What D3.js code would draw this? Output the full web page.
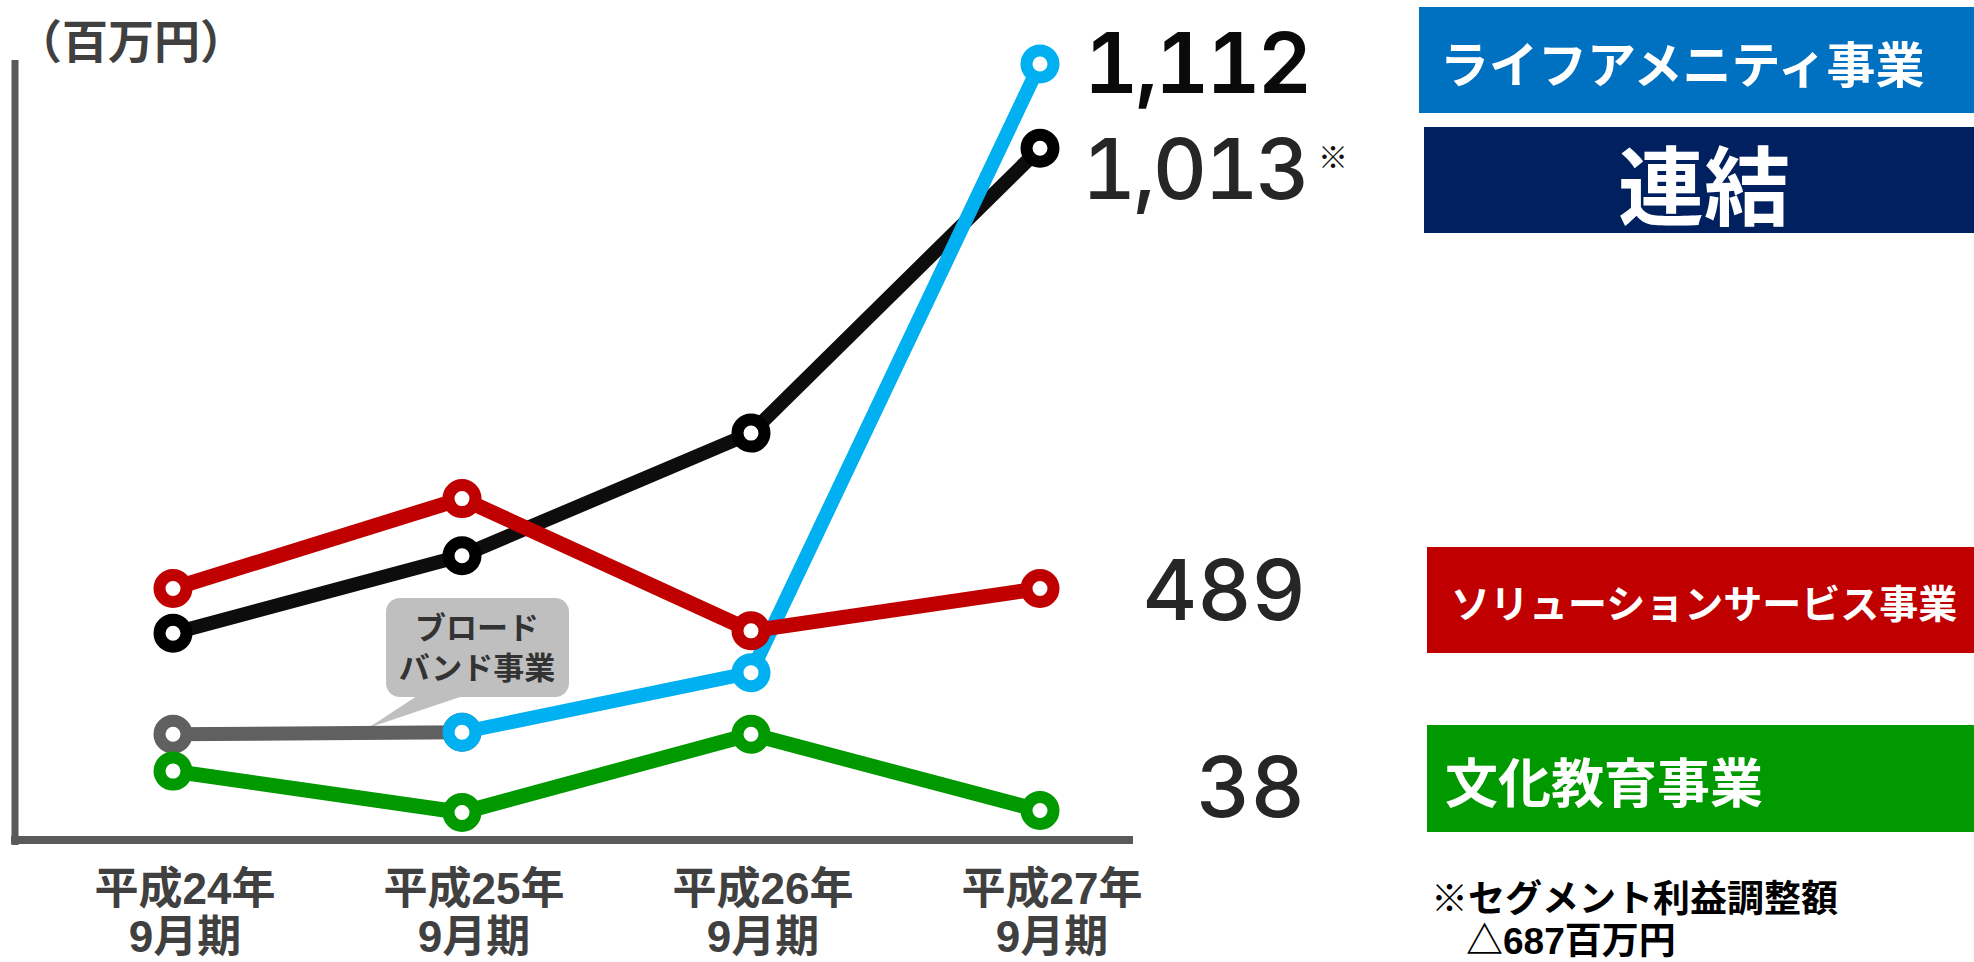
<!DOCTYPE html>
<html><head><meta charset="utf-8">
<script src="https://cdn.jsdelivr.net/npm/d3@7"></script>
<style>
body{margin:0;background:#fff;}
svg{display:block;}
</style>
</head><body>
<svg id="chart" width="1974" height="962"></svg>
<script>
// ---------------- data ----------------
const categories = ["平成24年9月期", "平成25年9月期", "平成26年9月期", "平成27年9月期"];
const categoryLine1 = ["平成24年", "平成25年", "平成26年", "平成27年"];
const categoryLine2 = ["9月期", "9月期", "9月期", "9月期"];

const consolidated     = [398, 528, 674, 1013];   // 連結
const solutionService  = [489, 596, 403, 489];    // ソリューションサービス事業
const broadband        = [193, 197, null, null];  // ブロードバンド事業
const lifeAmenity      = [null, 197, 318, 1112];  // ライフアメニティ事業
const cultureEducation = [118, 34, 193, 38];      // 文化教育事業

const legendLabels = ["ライフアメニティ事業", "連結", "ソリューションサービス事業", "文化教育事業"];
const broadbandLabel = ["ブロード", "バンド事業"];
const yAxisLabel = "（百万円）";
const footnoteLines = ["※セグメント利益調整額", "△687百万円"];
const consolidatedMark = "※";
// labelled end values (the chart is schematic, not drawn to a single linear scale)
const labelledValues = [38, 489, 1013, 1112];

// ---------------- layout / style ----------------
const svg = d3.select("#chart");
const CJK = "'Noto Sans CJK JP','Noto Sans',sans-serif";
const MIX = "'Liberation Sans','Noto Sans CJK JP',sans-serif";
const NUM = "Inter,'Liberation Sans',Arial,sans-serif";

const x = d3.scalePoint().domain(categories).range([173, 1040]);
const y = d3.scaleLinear().domain(labelledValues).range([810.5, 588.5, 148.3, 64]);

const series = [
  {key: "consolidated", values: consolidated, color: "#0d0d0d", marker: "#000000", width: 14},
  {key: "broadband", values: broadband, color: "#606060", marker: "#606060", width: 14},
  {key: "culture", values: cultureEducation, color: "#009900", marker: "#009900", width: 15},
  {key: "life", values: lifeAmenity, color: "#00b0f0", marker: "#00b0f0", width: 14},
  {key: "solution", values: solutionService, color: "#c00000", marker: "#c00000", width: 15}
];

// axes
svg.append("line").attr("x1", 15).attr("x2", 15).attr("y1", 60).attr("y2", 845)
  .attr("stroke", "#5a5a5a").attr("stroke-width", 7);
svg.append("line").attr("x1", 11).attr("x2", 1133).attr("y1", 840).attr("y2", 840)
  .attr("stroke", "#5a5a5a").attr("stroke-width", 8);

svg.append("text").attr("x", 16).attr("y", 38).attr("dominant-baseline", "central")
  .attr("font-family", CJK).attr("font-weight", "bold").attr("font-size", 46)
  .attr("fill", "#404040").text(yAxisLabel);

// x labels (two lines in one text)
const xl = svg.append("g").selectAll("text").data(categories).join("text")
  .attr("text-anchor", "middle").attr("font-family", MIX).attr("font-weight", "bold")
  .attr("font-size", 44).attr("fill", "#404040");
xl.append("tspan").attr("x", d => x(d) + 12).attr("y", 904).text((d, i) => categoryLine1[i]);
xl.append("tspan").attr("x", d => x(d) + 12).attr("y", 952).text((d, i) => categoryLine2[i]);

// callout for broadband
const callout = svg.append("g");
callout.append("path").attr("d", "M417,696 L463,696 L368,728 Z").attr("fill", "#bfbfbf");
callout.append("rect").attr("x", 386).attr("y", 598).attr("width", 183).attr("height", 99)
  .attr("rx", 14).attr("fill", "#bfbfbf");
const ct = callout.append("text").attr("text-anchor", "middle").attr("font-family", MIX)
  .attr("font-weight", "bold").attr("font-size", 31).attr("fill", "#333");
ct.selectAll("tspan").data(broadbandLabel).join("tspan")
  .attr("x", 477).attr("y", (d, i) => 639 + i * 40).text(d => d);

// lines + markers
const line = d3.line().defined(d => d.v != null).x(d => x(d.c)).y(d => y(d.v));
series.forEach(s => {
  const pts = s.values.map((v, i) => ({c: categories[i], v}));
  const g = svg.append("g");
  g.append("path").datum(pts).attr("d", line).attr("fill", "none")
    .attr("stroke", s.color).attr("stroke-width", s.width).attr("stroke-linejoin", "round");
  g.selectAll("circle").data(pts.filter(p => p.v != null)).join("circle")
    .attr("cx", d => x(d.c)).attr("cy", d => y(d.v)).attr("r", 13.5)
    .attr("fill", "#fff").attr("stroke", s.marker).attr("stroke-width", 12);
});

// end value labels
const fmt = d3.format(",");
const endLabels = [
  {v: lifeAmenity[3], dy: 29, weight: 600, color: "#0a0a0a", xr: 1309, ls: -3},
  {v: consolidated[3], dy: 51, weight: 500, color: "#262626", xr: 1307, ls: -3},
  {v: solutionService[3], dy: 31.5, weight: 500, color: "#262626", xr: 1306, ls: 0},
  {v: cultureEducation[3], dy: 6.5, weight: 500, color: "#262626", xr: 1305, ls: 0}
];
svg.append("g").selectAll("text").data(endLabels).join("text")
  .attr("x", d => d.xr).attr("y", d => y(d.v) + d.dy).attr("text-anchor", "end")
  .attr("font-family", NUM).attr("font-size", 84).attr("font-weight", d => d.weight)
  .attr("letter-spacing", d => d.ls)
  .style("font-variant-numeric", "tabular-nums").style("font-feature-settings", "'tnum' 1")
  .attr("fill", d => d.color).text(d => fmt(d.v));
svg.append("text").attr("x", 1318).attr("y", y(consolidated[3]) + 7).attr("dominant-baseline", "central")
  .attr("font-family", CJK).attr("font-size", 30).attr("fill", "#111").text(consolidatedMark);

// legend boxes
const legend = [
  {label: legendLabels[0], fill: "#0070c0", x0: 1419, y0: 7, h: 106, fs: 49, tx: 1440, anchor: "start"},
  {label: legendLabels[1], fill: "#002060", x0: 1424, y0: 127, h: 106, fs: 86, tx: 1704, anchor: "middle"},
  {label: legendLabels[2], fill: "#c00000", x0: 1427, y0: 547, h: 106, fs: 39, tx: 1451, anchor: "start"},
  {label: legendLabels[3], fill: "#009900", x0: 1427, y0: 725, h: 107, fs: 53, tx: 1445, anchor: "start"}
];
const lg = svg.append("g").selectAll("g").data(legend).join("g");
lg.append("rect").attr("x", d => d.x0).attr("y", d => d.y0).attr("width", d => 1974 - d.x0)
  .attr("height", d => d.h).attr("fill", d => d.fill);
lg.append("text").attr("x", d => d.tx).attr("y", d => d.y0 + d.h / 2 + 1)
  .attr("text-anchor", d => d.anchor).attr("dominant-baseline", "central")
  .attr("font-family", CJK).attr("font-weight", "bold").attr("font-size", d => d.fs)
  .attr("fill", "#fff").text(d => d.label);

// footnote (one text, two lines)
const fn = svg.append("text").attr("font-family", MIX).attr("font-weight", "bold")
  .attr("font-size", 37).attr("fill", "#000");
fn.selectAll("tspan").data(footnoteLines).join("tspan")
  .attr("x", (d, i) => i === 0 ? 1431 : 1466).attr("y", (d, i) => 912 + i * 42).text(d => d);
</script>
</body></html>
